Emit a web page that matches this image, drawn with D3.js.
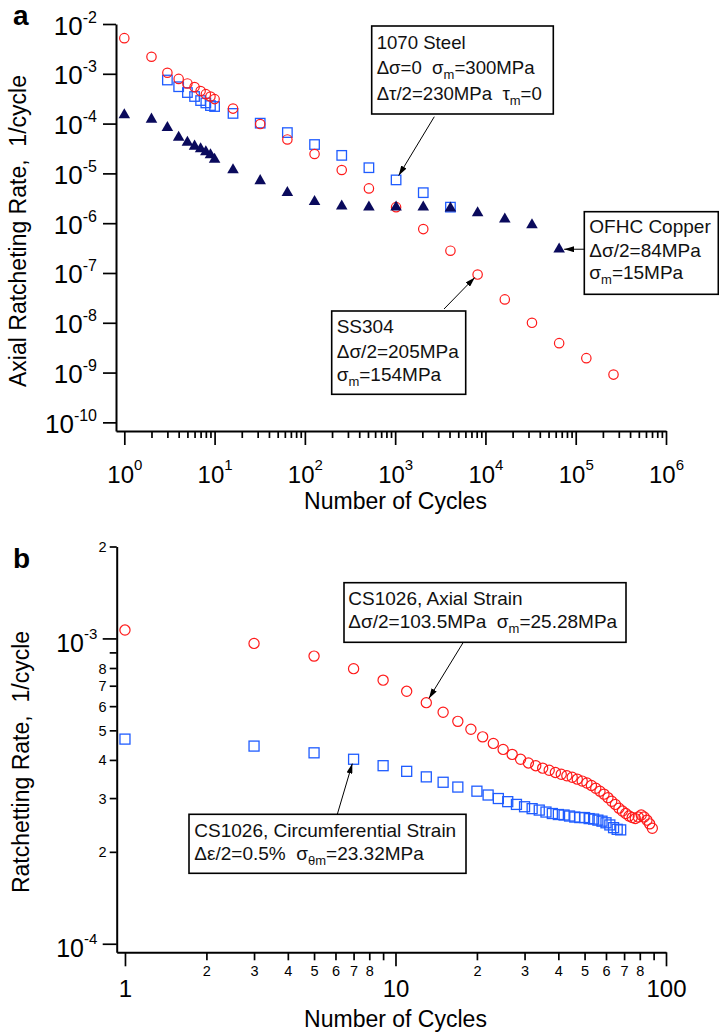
<!DOCTYPE html>
<html><head><meta charset="utf-8">
<script src="https://cdn.jsdelivr.net/npm/d3@7"></script>
<style>
body{margin:0;background:#fff;}
svg{display:block;font-family:"Liberation Sans",Arial,Helvetica,sans-serif;}
text{white-space:pre;}
</style></head><body>
<svg id="chart" width="719" height="1035"></svg>
<script>
// ---------- Panel a data ----------
const ssN   = [1,2,3,4,5,6,7,8,9,10,16,32,64,128,256,512,1024,2048,4096,8192,16384,32768,65536,131072,262144];
const ssV   = [5.2e-3,2.2e-3,1.05e-3,7.9e-4,6.4e-4,5.4e-4,4.5e-4,3.9e-4,3.5e-4,3.1e-4,2.0e-4,9.8e-5,4.8e-5,2.45e-5,1.17e-5,5.0e-6,2.1e-6,7.6e-7,2.8e-7,9.3e-8,2.95e-8,1.0e-8,3.9e-9,1.95e-9,9.1e-10];
const stN   = [3,4,5,6,7,8,9,10,16,32,64,128,256,512,1024,2048,4096];
const stV   = [7.5e-4,5.5e-4,4.2e-4,3.5e-4,2.9e-4,2.6e-4,2.3e-4,2.2e-4,1.6e-4,1.02e-4,6.6e-5,3.8e-5,2.3e-5,1.3e-5,7.4e-6,4.1e-6,2.1e-6];
const cuN   = [1,2,3,4,5,6,7,8,9,10,16,32,64,128,256,512,1024,2048,4096,8192,16384,32768,65536];
const cuV   = [1.5e-4,1.22e-4,8.3e-5,5.3e-5,4.2e-5,3.5e-5,3.1e-5,2.7e-5,2.35e-5,1.9e-5,1.17e-5,7.1e-6,4.1e-6,2.7e-6,2.2e-6,2.1e-6,2.1e-6,2.1e-6,2.0e-6,1.6e-6,1.2e-6,9.2e-7,3.0e-7];
const xDomainA = [0.809, 1e6];
const yDomainA = [6.71e-11, 1e-2];
const xMajorA  = [1,10,100,1e3,1e4,1e5,1e6];
const xMinorA  = [2,3,4,5,6,7,8,9,20,30,40,50,60,70,80,90,200,300,400,500,600,700,800,900,2e3,3e3,4e3,5e3,6e3,7e3,8e3,9e3,2e4,3e4,4e4,5e4,6e4,7e4,8e4,9e4,2e5,3e5,4e5,5e5,6e5,7e5,8e5,9e5];
const yMajorA  = [1e-2,1e-3,1e-4,1e-5,1e-6,1e-7,1e-8,1e-9,1e-10];

// ---------- Panel b data ----------
const axN = [1,3,5,7,9,11,13,15,17,19,21,23,25,27,29,31,33,35,37,39,41,43,45,47,49,51,53,55,57,59,61,63,65,67,69,71,73,75,77,79,81,83,85,87,89];
const axV = [1.065e-3,9.63e-4,8.75e-4,7.96e-4,7.30e-4,6.71e-4,6.16e-4,5.73e-4,5.35e-4,5.04e-4,4.76e-4,4.53e-4,4.33e-4,4.17e-4,4.02e-4,3.91e-4,3.83e-4,3.76e-4,3.70e-4,3.64e-4,3.59e-4,3.55e-4,3.51e-4,3.46e-4,3.41e-4,3.36e-4,3.30e-4,3.23e-4,3.16e-4,3.09e-4,3.01e-4,2.93e-4,2.86e-4,2.78e-4,2.72e-4,2.67e-4,2.62e-4,2.59e-4,2.57e-4,2.60e-4,2.64e-4,2.60e-4,2.54e-4,2.47e-4,2.39e-4];
const ciN = [1,3,5,7,9,11,13,15,17,20,22,24,26,28,30,32,34,36,38,40,42,44,46,48,50,52,54,56,58,60,62,64,66,68];
const ciV = [4.68e-4,4.44e-4,4.22e-4,4.02e-4,3.83e-4,3.67e-4,3.52e-4,3.38e-4,3.26e-4,3.16e-4,3.07e-4,2.99e-4,2.92e-4,2.86e-4,2.81e-4,2.77e-4,2.74e-4,2.70e-4,2.67e-4,2.65e-4,2.64e-4,2.62e-4,2.60e-4,2.59e-4,2.59e-4,2.57e-4,2.56e-4,2.54e-4,2.52e-4,2.49e-4,2.45e-4,2.40e-4,2.37e-4,2.36e-4];
const xDomainB = [0.932, 100];
const yDomainB = [9.376e-5, 2e-3];
const xMajorB  = [1,10,100];
const xMinorB  = [2,3,4,5,6,7,8,9,20,30,40,50,60,70,80,90];
const yMajorB  = [1e-3,1e-4];
const yMinorB  = [2e-3,9e-4,8e-4,7e-4,6e-4,5e-4,4e-4,3e-4,2e-4];

const RED="#ff1a1a", BLUE="#1f5cff", NAVY="#0a0a5c";

const svg = d3.select("#chart");
svg.append("rect").attr("width",719).attr("height",1035).attr("fill","#fff");
const defs = svg.append("defs");
defs.append("marker").attr("id","arr").attr("viewBox","0 0 10 6").attr("refX",10).attr("refY",3)
  .attr("markerWidth",10).attr("markerHeight",6).attr("markerUnits","userSpaceOnUse").attr("orient","auto")
  .append("path").attr("d","M0,0L10,3L0,6z").attr("fill","#000");

function styleAxis(g){
  g.attr("font-family",null).attr("font-size",null);
  g.select(".domain").attr("stroke","#000").attr("stroke-width",2);
  g.selectAll(".tick line").attr("stroke","#000").attr("stroke-width",1.7);
  g.selectAll(".tick text").attr("fill","#000");
}
function powText(t, d, supDy, base, sup){
  t.text(null);
  t.append("tspan").attr("font-size",base).text("10");
  t.append("tspan").attr("dy",supDy).attr("font-size",sup).text(String(Math.round(Math.log10(d))));
}
function mant(d){const m=Math.round(d/Math.pow(10,Math.floor(Math.log10(d)+1e-9))); return m===9?"":String(m);}

// ================= Panel a =================
const xA = d3.scaleLog().domain(xDomainA).range([116,666]);
const yA = d3.scaleLog().domain(yDomainA).range([431,24]);

const gxAmin = svg.append("g").attr("transform",`translate(0,${yA.range()[0]})`)
  .call(d3.axisBottom(xA).tickValues(xMinorA).tickSize(7).tickSizeOuter(0).tickFormat(""));
styleAxis(gxAmin); gxAmin.select(".domain").remove();
const gxA = svg.append("g").attr("transform",`translate(0,${yA.range()[0]})`)
  .call(d3.axisBottom(xA).tickValues(xMajorA).tickSize(14).tickSizeOuter(0).tickFormat(""));
styleAxis(gxA);
gxA.selectAll(".tick text").attr("y",52).attr("dy",0).attr("text-anchor","middle")
  .each(function(d){ powText(d3.select(this), d, -13, 24, 15); });

const gyA = svg.append("g").attr("transform",`translate(${xA.range()[0]},0)`)
  .call(d3.axisLeft(yA).tickValues(yMajorA).tickSize(13).tickSizeOuter(0).tickFormat(""));
styleAxis(gyA);
gyA.selectAll(".tick text").attr("x",-19).attr("y",10).attr("dy",0).attr("text-anchor","end")
  .each(function(d){ powText(d3.select(this), d, -12, 26, 16); });

svg.append("text").attr("x",395.5).attr("y",509).attr("text-anchor","middle").attr("font-size",23).text("Number of Cycles");
svg.append("text").attr("transform","translate(26,231) rotate(-90)").attr("text-anchor","middle").attr("font-size",23).text("Axial Ratcheting Rate,  1/cycle");
svg.append("text").attr("x",13).attr("y",25).attr("font-size",28).attr("font-weight","bold").text("a");

// marks panel a
svg.append("g").selectAll("rect").data(d3.zip(stN,stV)).join("rect")
  .attr("x",d=>xA(d[0])-4.75).attr("y",d=>yA(d[1])-4.75).attr("width",9.5).attr("height",9.5)
  .attr("fill","none").attr("stroke",BLUE).attr("stroke-width",1.3);
svg.append("g").selectAll("circle").data(d3.zip(ssN,ssV)).join("circle")
  .attr("cx",d=>xA(d[0])).attr("cy",d=>yA(d[1])).attr("r",4.7)
  .attr("fill","none").attr("stroke",RED).attr("stroke-width",1.2);
const tri = d3.symbol().type(d3.symbolTriangle).size(58);
svg.append("g").selectAll("path").data(d3.zip(cuN,cuV)).join("path")
  .attr("transform",d=>`translate(${xA(d[0])},${yA(d[1])})`).attr("d",tri).attr("fill",NAVY);

// ================= Panel b =================
const xB = d3.scaleLog().domain(xDomainB).range([116.7,666]);
const yB = d3.scaleLog().domain(yDomainB).range([952.3,546.5]);

const gxBmin = svg.append("g").attr("transform",`translate(0,${yB.range()[0]})`)
  .call(d3.axisBottom(xB).tickValues(xMinorB).tickSize(8).tickSizeOuter(0).tickFormat(mant));
styleAxis(gxBmin); gxBmin.select(".domain").remove();
gxBmin.selectAll(".tick text").attr("y",23.7).attr("dy",0).attr("font-size",14.5);
const gxB = svg.append("g").attr("transform",`translate(0,${yB.range()[0]})`)
  .call(d3.axisBottom(xB).tickValues(xMajorB).tickSize(14).tickSizeOuter(0).tickFormat(d3.format("d")));
styleAxis(gxB);
gxB.selectAll(".tick text").attr("y",44.7).attr("dy",0).attr("font-size",24);

const gyBmin = svg.append("g").attr("transform",`translate(${xB.range()[0]},0)`)
  .call(d3.axisLeft(yB).tickValues(yMinorB).tickSize(7).tickSizeOuter(0).tickFormat(mant));
styleAxis(gyBmin); gyBmin.select(".domain").remove();
gyBmin.selectAll(".tick text").attr("x",-10).attr("y",5).attr("dy",0).attr("font-size",14.5);
const gyB = svg.append("g").attr("transform",`translate(${xB.range()[0]},0)`)
  .call(d3.axisLeft(yB).tickValues(yMajorB).tickSize(14).tickSizeOuter(0).tickFormat(""));
styleAxis(gyB);
gyB.selectAll(".tick text").attr("x",-19.4).attr("y",13).attr("dy",0).attr("text-anchor","end")
  .each(function(d){ powText(d3.select(this), d, -13, 25, 15); });

svg.append("text").attr("x",395.5).attr("y",1027).attr("text-anchor","middle").attr("font-size",23).text("Number of Cycles");
svg.append("text").attr("transform","translate(29,762) rotate(-90)").attr("text-anchor","middle").attr("font-size",23).text("Ratchetting Rate,  1/cycle");
svg.append("text").attr("x",13).attr("y",568).attr("font-size",28).attr("font-weight","bold").text("b");

svg.append("g").selectAll("rect").data(d3.zip(ciN,ciV)).join("rect")
  .attr("x",d=>xB(d[0])-5).attr("y",d=>yB(d[1])-5).attr("width",10).attr("height",10)
  .attr("fill","none").attr("stroke",BLUE).attr("stroke-width",1.3);
svg.append("g").selectAll("circle").data(d3.zip(axN,axV)).join("circle")
  .attr("cx",d=>xB(d[0])).attr("cy",d=>yB(d[1])).attr("r",5.1)
  .attr("fill","none").attr("stroke",RED).attr("stroke-width",1.2);

// ================= Annotations =================
const S = "sub";
const notes = [
  {box:[371.7,26,181.6,88], tx:376.7, fs:18.6, lines:[[49,[["1070 Steel"]]],[74,[["Δσ=0  σ"],["m",S],["=300MPa"]]],[100,[["Δτ/2=230MPa  τ"],["m",S],["=0"]]]],
   from:[434.3,116.7], to:[xA(stN[14]),yA(stV[14])], gap:5},
  {box:[331.7,311,134,83.3], tx:336.7, fs:19, lines:[[333.3,[["SS304"]]],[358.3,[["Δσ/2=205MPa"]]],[380.5,[["σ"],["m",S],["=154MPa"]]]],
   from:[444,309], to:[xA(ssN[19]),yA(ssV[19])], gap:4},
  {box:[584.3,211.7,134,82.6], tx:589.3, fs:19, lines:[[233.3,[["OFHC Copper"]]],[256.5,[["Δσ/2=84MPa"]]],[279.3,[["σ"],["m",S],["=15MPa"]]]],
   from:[584.3,yA(cuV[22])], to:[xA(cuN[22]),yA(cuV[22])], gap:5},
  {box:[344,582.7,282,59.6], tx:348.3, fs:19, lines:[[605,[["CS1026, Axial Strain"]]],[628.3,[["Δσ/2=103.5MPa  σ"],["m",S],["=25.28MPa"]]]],
   from:[463.3,642.3], to:[xB(axN[6]),yB(axV[6])], gap:5},
  {box:[189,814.3,277,59], tx:194.3, fs:19, lines:[[837.3,[["CS1026, Circumferential Strain"]]],[860,[["Δε/2=0.5%  σ"],["θm",S],["=23.32MPa"]]]],
   from:[337.3,814.3], to:[xB(ciN[3]),yB(ciV[3])], gap:4.5}
];
notes.forEach(a=>{
  const g = svg.append("g");
  g.append("rect").attr("x",a.box[0]).attr("y",a.box[1]).attr("width",a.box[2]).attr("height",a.box[3])
    .attr("fill","#fff").attr("stroke","#000").attr("stroke-width",1.6);
  a.lines.forEach(([y,segs])=>{
    const t = g.append("text").attr("x",a.tx).attr("y",y).attr("font-size",a.fs).attr("fill","#111");
    let shift=0;
    segs.forEach(s=>{
      const sub = s[1]===S;
      const off = sub?5:0;
      t.append("tspan").attr("dy",off-shift).attr("font-size",sub?13:a.fs).text(s[0]);
      shift = off;
    });
  });
  const dx=a.from[0]-a.to[0], dy=a.from[1]-a.to[1], L=Math.hypot(dx,dy);
  const tip=[a.to[0]+dx/L*a.gap, a.to[1]+dy/L*a.gap];
  g.append("line").attr("x1",a.from[0]).attr("y1",a.from[1]).attr("x2",tip[0]).attr("y2",tip[1])
    .attr("stroke","#000").attr("stroke-width",1).attr("marker-end","url(#arr)");
});
</script>
</body></html>
